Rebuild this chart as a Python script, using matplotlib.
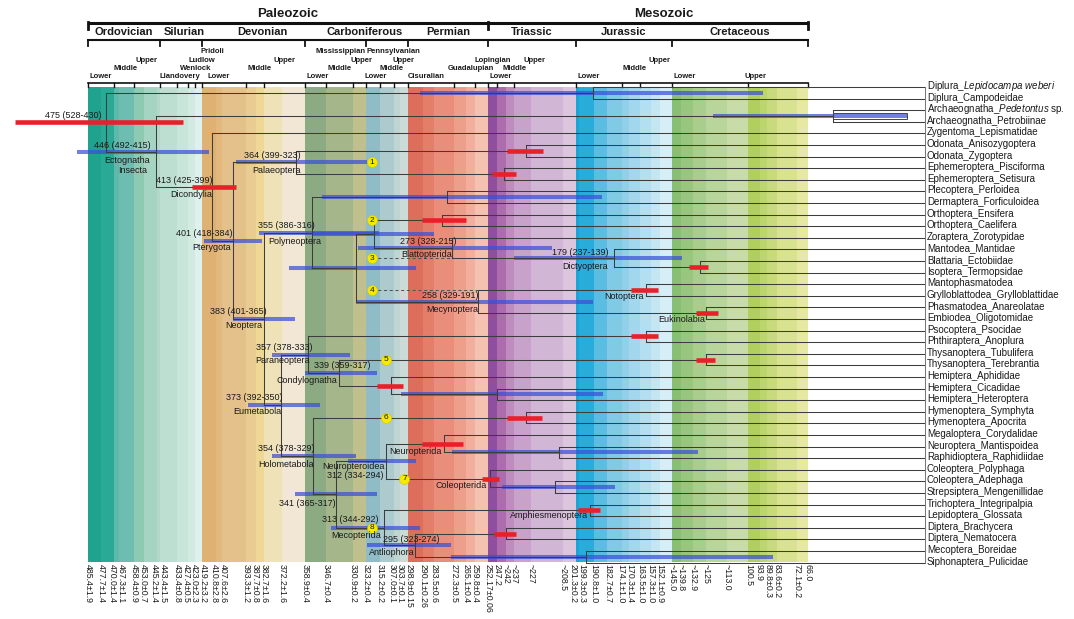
import matplotlib
matplotlib.use("Agg")
import matplotlib.pyplot as plt
from matplotlib.patches import Rectangle

plt.rcParams["font.family"] = ["Liberation Sans", "DejaVu Sans"]
plt.rcParams["mathtext.fontset"] = "custom"
plt.rcParams["mathtext.rm"] = "Liberation Sans"
plt.rcParams["mathtext.it"] = "Liberation Sans:italic"

# ---------------- data ----------------
tips = [
    "Diplura_$\\mathit{Lepidocampa\\ weberi}$", "Diplura_Campodeidae",
    "Archaeognatha_$\\mathit{Pedetontus}$ sp.", "Archaeognatha_Petrobiinae",
    "Zygentoma_Lepismatidae", "Odonata_Anisozygoptera", "Odonata_Zygoptera",
    "Ephemeroptera_Pisciforma", "Ephemeroptera_Setisura", "Plecoptera_Perloidea",
    "Dermaptera_Forficuloidea", "Orthoptera_Ensifera", "Orthoptera_Caelifera",
    "Zoraptera_Zorotypidae", "Mantodea_Mantidae", "Blattaria_Ectobiidae",
    "Isoptera_Termopsidae", "Mantophasmatodea", "Grylloblattodea_Grylloblattidae",
    "Phasmatodea_Anareolatae", "Embiodea_Oligotomidae", "Psocoptera_Psocidae",
    "Phthiraptera_Anoplura", "Thysanoptera_Tubulifera", "Thysanoptera_Terebrantia",
    "Hemiptera_Aphididae", "Hemiptera_Cicadidae", "Hemiptera_Heteroptera",
    "Hymenoptera_Symphyta", "Hymenoptera_Apocrita", "Megaloptera_Corydalidae",
    "Neuroptera_Mantispoidea", "Raphidioptera_Raphidiidae", "Coleoptera_Polyphaga",
    "Coleoptera_Adephaga", "Strepsiptera_Mengenillidae", "Trichoptera_Integripalpia",
    "Lepidoptera_Glossata", "Diptera_Brachycera", "Diptera_Nematocera",
    "Mecoptera_Boreidae", "Siphonaptera_Pulicidae",
]

# node: (child, child)  -- ints are tip indices
kids = {
    "root": ("Diplura", "Ectognatha"), "Diplura": (0, 1),
    "Ectognatha": ("Archaeognatha", "Dicondylia"), "Archaeognatha": (2, 3),
    "Dicondylia": (4, "Pterygota"), "Pterygota": ("Palaeoptera", "Neoptera"),
    "Palaeoptera": ("Odonata", "Ephemeroptera"), "Odonata": (5, 6), "Ephemeroptera": (7, 8),
    "Neoptera": ("Polyneoptera", "Eumetabola"), "Polyneoptera": ("PlecDerm", "PolyA"),
    "PlecDerm": (9, 10), "PolyA": ("Node2", "Mecynoptera"),
    "Node2": ("Orthoptera", "Blattopterida"), "Orthoptera": (11, 12),
    "Blattopterida": (13, "Dictyoptera"), "Dictyoptera": (14, "BlatIsop"), "BlatIsop": (15, 16),
    "Mecynoptera": ("Notoptera", "Eukinolabia"), "Notoptera": (17, 18), "Eukinolabia": (19, 20),
    "Eumetabola": ("Paraneoptera", "Holometabola"),
    "Paraneoptera": ("Psocodea", "Condylognatha"), "Psocodea": (21, 22),
    "Condylognatha": ("Thysanoptera", "Hemiptera"), "Thysanoptera": (23, 24),
    "Hemiptera": (25, "CicHet"), "CicHet": (26, 27),
    "Holometabola": ("Hymenoptera", "Aparaglossata"), "Hymenoptera": (28, 29),
    "Aparaglossata": ("Neuropteroidea", "Mecopterida"),
    "Neuropteroidea": ("Neuropterida", "Coleopterida"), "Neuropterida": (30, "NeuRaph"),
    "NeuRaph": (31, 32), "Coleopterida": (33, "AdeStrep"), "AdeStrep": (34, 35),
    "Mecopterida": ("Amphiesmenoptera", "Antliophora"), "Amphiesmenoptera": (36, 37),
    "Antliophora": ("Diptera", "MecSiph"), "Diptera": (38, 39), "MecSiph": (40, 41),
}

node_age = {
    "root": 475, "Diplura": 191, "Ectognatha": 446, "Archaeognatha": 51, "Dicondylia": 413,
    "Pterygota": 401, "Palaeoptera": 364, "Odonata": 230, "Ephemeroptera": 243,
    "Neoptera": 383, "Polyneoptera": 355, "PlecDerm": 276, "PolyA": 329, "Node2": 319,
    "Orthoptera": 279, "Blattopterida": 273, "Dictyoptera": 179, "BlatIsop": 129,
    "Mecynoptera": 258, "Notoptera": 160, "Eukinolabia": 125, "Eumetabola": 373,
    "Paraneoptera": 357, "Psocodea": 160, "Condylognatha": 339, "Thysanoptera": 125,
    "Hemiptera": 309, "CicHet": 247, "Holometabola": 354, "Hymenoptera": 230,
    "Aparaglossata": 341, "Neuropteroidea": 312, "Neuropterida": 278, "NeuRaph": 211,
    "Coleopterida": 251, "AdeStrep": 213, "Mecopterida": 313, "Amphiesmenoptera": 193,
    "Antliophora": 295, "Diptera": 242, "MecSiph": 195,
}

# 95% intervals (old, young)
node_ci = {
    "root": (528, 430), "Diplura": (292, 92), "Ectognatha": (492, 415), "Archaeognatha": (121, 8),
    "Dicondylia": (425, 399), "Pterygota": (418, 384), "Palaeoptera": (399, 323),
    "Odonata": (241, 220), "Ephemeroptera": (250, 236), "Neoptera": (401, 365),
    "Polyneoptera": (386, 316), "PlecDerm": (349, 186), "PolyA": (368, 294), "Node2": (355, 284),
    "Orthoptera": (291, 265), "Blattopterida": (328, 215), "Dictyoptera": (237, 139),
    "BlatIsop": (135, 124), "Mecynoptera": (329, 191), "Notoptera": (169, 153),
    "Eukinolabia": (131, 118), "Eumetabola": (392, 350), "Paraneoptera": (378, 333),
    "Psocodea": (169, 153), "Condylognatha": (359, 317), "Thysanoptera": (131, 120),
    "Hemiptera": (317, 302), "CicHet": (303, 185), "Holometabola": (378, 329),
    "Hymenoptera": (241, 221), "Aparaglossata": (365, 317), "Neuropteroidea": (334, 294),
    "Neuropterida": (291, 267), "NeuRaph": (273, 130), "Coleopterida": (256, 246),
    "AdeStrep": (244, 178), "Mecopterida": (344, 292), "Amphiesmenoptera": (200, 187),
    "Antliophora": (323, 274), "Diptera": (249, 236), "MecSiph": (274, 86),
}

red_nodes = ["root", "Dicondylia", "Odonata", "Ephemeroptera", "Orthoptera", "BlatIsop",
             "Notoptera", "Eukinolabia", "Psocodea", "Thysanoptera", "Hemiptera",
             "Hymenoptera", "Neuropterida", "Coleopterida", "Amphiesmenoptera", "Diptera"]

dated_nodes = ["root", "Ectognatha", "Dicondylia", "Pterygota", "Palaeoptera", "Neoptera",
               "Polyneoptera", "Blattopterida", "Dictyoptera", "Mecynoptera", "Eumetabola",
               "Paraneoptera", "Condylognatha", "Holometabola", "Aparaglossata",
               "Neuropteroidea", "Mecopterida", "Antliophora"]

clade_names = {
    "Dicondylia": "Dicondylia", "Pterygota": "Pterygota", "Palaeoptera": "Palaeoptera",
    "Neoptera": "Neoptera", "Polyneoptera": "Polyneoptera", "Blattopterida": "Blattopterida",
    "Dictyoptera": "Dictyoptera", "Mecynoptera": "Mecynoptera", "Notoptera": "Notoptera",
    "Eukinolabia": "Eukinolabia", "Eumetabola": "Eumetabola", "Paraneoptera": "Paraneoptera",
    "Condylognatha": "Condylognatha", "Holometabola": "Holometabola",
    "Neuropteroidea": "Neuropteroidea", "Neuropterida": "Neuropterida",
    "Coleopterida": "Coleopterida", "Mecopterida": "Mecopterida",
    "Amphiesmenoptera": "Amphiesmenoptera", "Antliophora": "Antliophora",
}

# fossil calibration points
cal_nodes = ["Palaeoptera", "Orthoptera", "Dictyoptera", "Notoptera",
             "Thysanoptera", "Hymenoptera", "Coleopterida", "Mecopterida"]
cal_age = [320, 320, 320, 320, 312, 312, 301, 320]
cal_dashed_to = {3: "Blattopterida", 4: "Mecynoptera"}

# time scale
eras = ["Paleozoic", "Mesozoic"]
era_bounds = [485.4, 252.17, 66.0]
periods = ["Ordovician", "Silurian", "Devonian", "Carboniferous", "Permian",
           "Triassic", "Jurassic", "Cretaceous"]
period_bounds = [485.4, 443.4, 419.2, 358.9, 298.9, 252.17, 201.3, 145.0, 66.0]
series_names = ["Lower", "Middle", "Upper", "Llandovery", "Wenlock", "Ludlow", "Pridoli",
                "Lower", "Middle", "Upper", "Mississippian", "Lower", "Middle", "Upper",
                "Pennsylvanian", "Lower", "Middle", "Upper", "Cisuralian", "Guadalupian",
                "Lopingian", "Lower", "Middle", "Upper", "Lower", "Middle", "Upper",
                "Lower", "Upper"]
series_start = [485.4, 470.0, 458.4, 443.4, 433.4, 427.4, 423.0,
                419.2, 393.3, 382.7, 358.9, 358.9, 346.7, 330.9,
                323.2, 323.2, 315.2, 307.0, 298.9, 272.3,
                259.8, 252.17, 247.2, 237.0, 201.3, 174.1, 163.5,
                145.0, 100.5]
series_row = [3, 2, 1, 3, 2, 1, 0, 3, 2, 1, 0, 3, 2, 1, 0, 3, 2, 1, 3, 2, 1,
              3, 2, 1, 3, 2, 1, 3, 3]

stage_bounds = [485.4, 477.7, 470.0, 467.3, 458.4, 453.0, 445.2, 443.4, 433.4, 427.4,
                423.0, 419.2, 410.8, 407.6, 393.3, 387.7, 382.7, 372.2, 358.9, 346.7,
                330.9, 323.2, 315.2, 307.0, 303.7, 298.9, 290.1, 283.5, 272.3, 265.1,
                259.8, 252.17, 247.2, 242, 237, 227, 208.5, 201.3, 199.3, 190.8,
                182.7, 174.1, 170.3, 163.5, 157.3, 152.1, 145.0, 139.8, 132.9, 125,
                113.0, 100.5, 93.9, 89.8, 83.6, 72.1, 66.0]
stage_labels = ["485.4±1.9", "477.7±1.4", "470.0±1.4", "467.3±1.1", "458.4±0.9",
                "453.0±0.7", "445.2±1.4", "443.4±1.5", "433.4±0.8", "427.4±0.5",
                "423.0±2.3", "419.2±3.2", "410.8±2.8", "407.6±2.6", "393.3±1.2",
                "387.7±0.8", "382.7±1.6", "372.2±1.6", "358.9±0.4", "346.7±0.4",
                "330.9±0.2", "323.2±0.4", "315.2±0.2", "307.0±0.1", "303.7±0.1",
                "298.9±0.15", "290.1±0.26", "283.5±0.6", "272.3±0.5", "265.1±0.4",
                "259.8±0.4", "252.17±0.06", "247.2", "~242", "~237", "~227", "~208.5",
                "201.3±0.2", "199.3±0.3", "190.8±1.0", "182.7±0.7", "174.1±1.0",
                "170.3±1.4", "163.5±1.0", "157.3±1.0", "152.1±0.9", "~145.0", "~139.8",
                "~132.9", "~125", "~113.0", "100.5", "93.9", "89.8±0.3", "83.6±0.2",
                "72.1±0.2", "66.0"]

stage_colors = [
    "#1fa38f", "#2aa996", "#5fb8aa", "#6dbdb0", "#8ec9b2", "#a6d4c2", "#b2d9c8",
    "#bcdfd2", "#c8e5da", "#d2eae2", "#dff1ec",
    "#dfb172", "#e2b87c", "#e4c08a", "#e9cc92", "#efd896", "#f0e2b8", "#f1e7d4",
    "#8cab82", "#a5b68b", "#c0c08f", "#8fbcc7", "#adcbce", "#bed5d3", "#cbdcd8",
    "#de6e5c", "#e47d6a", "#ea8e7c", "#ee9f8c", "#f2af9e", "#f5c2b2",
    "#8f4e9e", "#ac6cae", "#be8cbf", "#c8a2cb", "#d2b6d6", "#dcc6de",
    "#18a5d8", "#2aacdb", "#5bbde2", "#80cae6", "#92d0ea", "#a2d7ed", "#b4dff0",
    "#c4e6f3", "#d6eef8",
    "#88bf72", "#98c67f", "#a8cd8c", "#b8d59b", "#c8dca9",
    "#b0cf5f", "#bcd56c", "#c8db7c", "#d8e290", "#e6e8a4",
]

# ---------------- layout ----------------
PX_PER_MA = 1.716      # horizontal pixels per million years
X0_PX = 88             # pixel of 485.4 Ma
ROW_PX = 11.6          # pixels per tip row
Y0_PX = 87             # pixel of first tip
TIP_END = -2.3
LINE = "#3d3d3d"
BLUE = "#3a4fd6"
RED = "#e8202a"
TXT = "#1a1a1a"

era_dx = [0, 16]
period_dx = [0, 3, 9, 8, 0, 0, 0, 0]
series_dx = [0, -2, 0, -2, 2, 0, 4, 5, 0, 8, 9, 0, 0, -4, -1, -3, -2, -3, -1, -7, -2,
             0, 5, 8, 1, -1, 7, 0, -5]

# (dx, dy) pixel offsets for number labels and clade labels (dy > 0 = down)
num_off = {
    "root": (-4, -7), "Ectognatha": (-5, -6.5), "Dicondylia": (0, -7), "Pterygota": (0, -7.5),
    "Palaeoptera": (4, -7), "Neoptera": (3, -7.3), "Polyneoptera": (3, -7),
    "Blattopterida": (4.5, -6.5), "Dictyoptera": (-5, -6), "Mecynoptera": (0, -6),
    "Eumetabola": (2, -7.3), "Paraneoptera": (4, -6.8), "Condylognatha": (31, -6.7),
    "Holometabola": (1, -8), "Aparaglossata": (0, 9.5), "Neuropteroidea": (-2, 14.6),
    "Mecopterida": (-5, -8.8), "Antliophora": (25, -6.2),
}
name_off = {
    "Dicondylia": (0, 7), "Pterygota": (-2, 7.3), "Palaeoptera": (4, 7.6), "Neoptera": (-1, 7),
    "Polyneoptera": (9, 8.5), "Blattopterida": (0, 6.5), "Dictyoptera": (-6, 8.6),
    "Mecynoptera": (0, 7.4), "Notoptera": (-3, 6.7), "Eukinolabia": (-1, 6.7),
    "Eumetabola": (0, 6.4), "Paraneoptera": (1, 6.2), "Condylognatha": (-2, 8),
    "Holometabola": (0, 8), "Neuropteroidea": (-1, 5.6), "Neuropterida": (-2, 8),
    "Coleopterida": (-3, 6.5), "Mecopterida": (-3, 8.2), "Amphiesmenoptera": (-2, 5.6),
    "Antliophora": (0, 7.5),
}


def row_of(ypx):
    return (ypx - Y0_PX) / ROW_PX


def node_y(n):
    if isinstance(n, int):
        return float(n)
    a, b = kids[n]
    return (node_y(a) + node_y(b)) / 2


def x_of(child):
    return TIP_END if isinstance(child, int) else node_age[child]


fig = plt.figure(figsize=(10.74, 6.19), dpi=100)
ax = fig.add_axes([0, 0, 1, 1])
ax.set_xlim(485.4 + X0_PX / PX_PER_MA, 485.4 - (1074 - X0_PX) / PX_PER_MA)
ax.set_ylim(row_of(619), row_of(0))
ax.axis("off")

# coloured stage band
band_top, band_bot = -0.02, 40.95
for k, c in enumerate(stage_colors):
    ax.fill_between([stage_bounds[k], stage_bounds[k + 1]], band_top, band_bot,
                    color=c, lw=0, zorder=0)

# header: eras
y_era = row_of(22.7)
for k, name in enumerate(eras):
    a, b = era_bounds[k], era_bounds[k + 1]
    ax.plot([a, b], [y_era, y_era], color="#111", lw=2.2, solid_capstyle="butt")
    ax.annotate(name, ((a + b) / 2, row_of(14)), xytext=(era_dx[k], 0),
                textcoords="offset pixels", ha="center", va="center",
                fontsize=9.5, fontweight="bold", color=TXT)
for a in era_bounds:
    ax.plot([a, a], [y_era - 0.1, row_of(29)], color="#111", lw=2.0)

# header: periods
y_per = row_of(40)
ax.plot([period_bounds[0], period_bounds[-1]], [y_per, y_per], color="#111", lw=1.5)
for a in period_bounds + [323.2]:
    ax.plot([a, a], [y_per, row_of(46)], color="#111", lw=1.3)
for k, name in enumerate(periods):
    a, b = period_bounds[k], period_bounds[k + 1]
    ax.annotate(name, ((a + b) / 2, row_of(32)), xytext=(period_dx[k], 0),
                textcoords="offset pixels", ha="center", va="center",
                fontsize=8, fontweight="bold", color=TXT)

# header: series
y_ser = row_of(83)
ax.plot([period_bounds[0], period_bounds[-1]], [y_ser, y_ser], color="#111", lw=1.2)
for a in sorted(set(series_start + [66.0])):
    ax.plot([a, a], [y_ser, row_of(86.5)], color="#111", lw=1.0)
row_px = [51, 60, 68, 76]
for name, a, r, dx in zip(series_names, series_start, series_row, series_dx):
    ax.annotate(name, (a, row_of(row_px[r])), xytext=(1 + dx, 0), textcoords="offset pixels",
                ha="left", va="center", fontsize=5.5, fontweight="bold", color=TXT)

# stage age labels along the bottom (spread apart where crowded)
gap = 8.6
pos = [X0_PX + (485.4 - a) * PX_PER_MA for a in stage_bounds]
for _ in range(400):
    for k in range(len(pos) - 1):
        d = pos[k + 1] - pos[k]
        if d < gap:
            s = (gap - d) / 2
            pos[k] -= s
            pos[k + 1] += s
for p, lab in zip(pos, stage_labels):
    ax.text(485.4 - (p - X0_PX) / PX_PER_MA, row_of(564), lab, rotation=-90,
            ha="center", va="top", fontsize=6.3, color=TXT)

# tree branches
for n, (a, b) in kids.items():
    t = node_age[n]
    ax.plot([t, t], [node_y(a), node_y(b)], color=LINE, lw=0.75, zorder=3)
    for c in (a, b):
        ax.plot([t, x_of(c)], [node_y(c)] * 2, color=LINE, lw=0.75, zorder=3)

ax.plot([TIP_END, TIP_END], [0, len(tips) - 1], color="#777", lw=0.75, zorder=3)
for i, name in enumerate(tips):
    ax.annotate(name, (TIP_END, i), xytext=(2, 1), textcoords="offset pixels",
                ha="left", va="center", fontsize=7, color=TXT)

# confidence bars
for n in kids:
    old, young = node_ci[n]
    y = node_y(n)
    if n in red_nodes:
        ax.hlines(y, old, young, colors=RED, lw=3.3, zorder=4)
    else:
        ax.hlines(y, old, young, colors=BLUE, lw=2.9, alpha=0.72, zorder=2)

ya = node_y("Archaeognatha")
ax.add_patch(Rectangle((node_age["Archaeognatha"], ya - 0.22),
                       node_ci["Archaeognatha"][1] - node_age["Archaeognatha"], 0.44,
                       fill=False, ec="#444", lw=0.7, zorder=3))

# calibration points
for k, (n, a) in enumerate(zip(cal_nodes, cal_age), start=1):
    y = node_y(n)
    if k in cal_dashed_to:
        ax.plot([a, node_age[cal_dashed_to[k]]], [y, y], color="#555", lw=0.75,
                ls=(0, (3, 2.5)), zorder=3)
    ax.plot(a, y, "o", ms=7.2, mfc="#f5ea00", mec="#d6c800", mew=0.4, zorder=6)
    ax.text(a, y, str(k), ha="center", va="center", fontsize=6, color=TXT, zorder=7)

# node labels
for n in dated_nodes:
    old, young = node_ci[n]
    dx, dy = num_off[n]
    ax.annotate(f"{node_age[n]} ({old}-{young})", (node_age[n], node_y(n)),
                xytext=(dx, -dy), textcoords="offset pixels", ha="right", va="center",
                fontsize=6.5, color=TXT, zorder=8)
for n, lab in clade_names.items():
    dx, dy = name_off[n]
    ax.annotate(lab, (node_age[n], node_y(n)), xytext=(dx, -dy),
                textcoords="offset pixels", ha="right", va="center",
                fontsize=6.5, color=TXT, zorder=8)
ye = node_y("Ectognatha")
ax.annotate("Ectognatha", (node_age["Ectognatha"], ye), xytext=(-6, -8.5),
            textcoords="offset pixels", ha="right", va="center", fontsize=6.5, color=TXT)
ax.annotate("Insecta", (node_age["Ectognatha"], ye), xytext=(-8, -19),
            textcoords="offset pixels", ha="right", va="center", fontsize=6.5, color=TXT)

fig.savefig("out.png", dpi=100)
